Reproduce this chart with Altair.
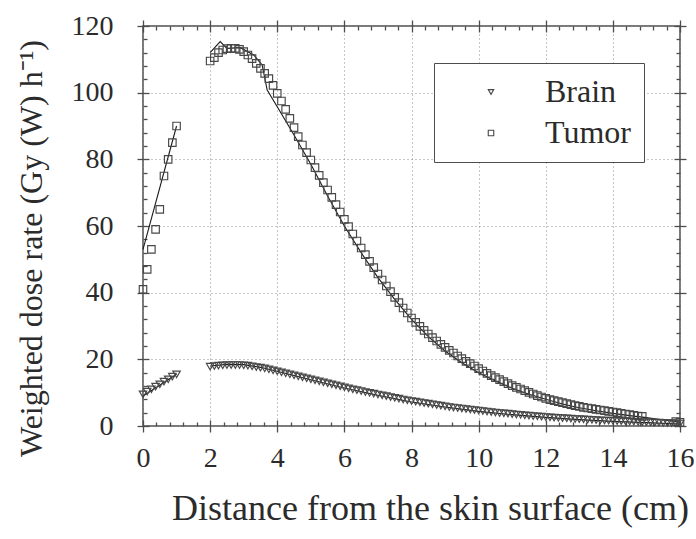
import altair as alt
import pandas as pd

# ---- measured / calculated weighted dose rate, Gy (W) per hour ----
near_depth = [0.0, 0.125, 0.25, 0.375, 0.5, 0.625, 0.75, 0.875, 1.0]
tumor_near = [41, 47, 53, 59, 65, 75, 80, 85, 90]
brain_near = [9.5, 10.3, 11.0, 11.8, 12.5, 13.3, 14.0, 14.8, 15.5]

far_depth = [
    2.0, 2.125, 2.25, 2.375, 2.5, 2.625, 2.75, 2.875,
    3.0, 3.125, 3.25, 3.375, 3.5, 3.625, 3.75, 3.875,
    4.0, 4.125, 4.25, 4.375, 4.5, 4.625, 4.75, 4.875,
    5.0, 5.125, 5.25, 5.375, 5.5, 5.625, 5.75, 5.875,
    6.0, 6.125, 6.25, 6.375, 6.5, 6.625, 6.75, 6.875,
    7.0, 7.125, 7.25, 7.375, 7.5, 7.625, 7.75, 7.875,
    8.0, 8.125, 8.25, 8.375, 8.5, 8.625, 8.75, 8.875,
    9.0, 9.125, 9.25, 9.375, 9.5, 9.625, 9.75, 9.875,
    10.0, 10.125, 10.25, 10.375, 10.5, 10.625, 10.75, 10.875,
    11.0, 11.125, 11.25, 11.375, 11.5, 11.625, 11.75, 11.875,
    12.0, 12.125, 12.25, 12.375, 12.5, 12.625, 12.75, 12.875,
    13.0, 13.125, 13.25, 13.375, 13.5, 13.625, 13.75, 13.875,
    14.0, 14.125, 14.25, 14.375, 14.5, 14.625, 14.75, 14.875,
    15.0, 15.125, 15.25, 15.375, 15.5, 15.625, 15.75, 15.875,
    16.0,
]

tumor_far = [
    109.5, 110.5, 112.0, 112.8, 113.2, 113.3, 113.3, 113.0,
    112.3, 111.3, 110.2, 108.8, 107.3, 105.8, 104.2, 102.2,
    99.8, 97.5, 95.0, 92.3, 89.5, 86.8, 84.3, 82.0,
    79.8, 77.5, 75.2, 73.0, 70.8, 68.6, 66.4, 64.2,
    62.0, 59.8, 57.6, 55.5, 53.4, 51.4, 49.4, 47.5,
    45.6, 43.8, 42.0, 40.3, 38.6, 37.0, 35.4, 33.9,
    32.4, 31.1, 29.9, 28.7, 27.6, 26.5, 25.5, 24.5,
    23.6, 22.7, 21.9, 21.0, 20.2, 19.4, 18.7, 18.0,
    17.2, 16.5, 15.8, 15.1, 14.5, 13.9, 13.3, 12.7,
    12.1, 11.6, 11.1, 10.6, 10.1, 9.6, 9.1, 8.7,
    8.3, 7.9, 7.6, 7.3, 7.0, 6.7, 6.4, 6.1,
    5.9, 5.6, 5.4, 5.2, 5.0, 4.8, 4.6, 4.4,
    4.2, 4.0, 3.8, 3.6, 3.4, 3.2, 3.0, 2.9,
]
tumor_end_depth = [15.875, 16.0]
tumor_end = [1.3, 1.1]

brain_far = [
    17.8, 18.0, 18.1, 18.2, 18.3, 18.3, 18.3, 18.3,
    18.2, 18.1, 17.9, 17.7, 17.5, 17.3, 17.0, 16.7,
    16.4, 16.1, 15.8, 15.5, 15.2, 14.9, 14.6, 14.3,
    14.0, 13.7, 13.4, 13.1, 12.8, 12.5, 12.2, 11.9,
    11.6, 11.3, 11.0, 10.75, 10.5, 10.2, 9.95, 9.7,
    9.45, 9.2, 8.95, 8.7, 8.45, 8.2, 7.95, 7.7,
    7.5, 7.3, 7.1, 6.9, 6.7, 6.5, 6.3, 6.1,
    5.9, 5.7, 5.55, 5.4, 5.25, 5.1, 4.95, 4.8,
    4.65, 4.5, 4.35, 4.2, 4.05, 3.9, 3.8, 3.7,
    3.55, 3.45, 3.35, 3.2, 3.1, 3.0, 2.9, 2.8,
    2.7, 2.6, 2.5, 2.45, 2.35, 2.3, 2.2, 2.1,
    2.05, 2.0, 1.9, 1.85, 1.8, 1.7, 1.65, 1.6,
    1.55, 1.5, 1.45, 1.4, 1.35, 1.3, 1.25, 1.2,
    1.15, 1.1, 1.05, 1.0, 0.95, 0.9, 0.85, 0.8,
    0.75,
]

# calculated curves (solid lines)
tumor_line_near_depth = [0.0, 1.0]
tumor_line_near = [53, 90]
brain_line_near_depth = [0.0, 1.0]
brain_line_near = [9.0, 15.5]

tumor_line_far_depth = [2.0, 2.3, 2.5, 2.9, 3.3, 3.55, 3.7, 4.0, 4.5, 5.0, 5.5, 6.0,
                        6.5, 7.0, 7.5, 8.0, 8.5, 9.0, 9.5, 10.0, 10.5, 11.0, 11.5,
                        12.0, 12.5, 13.0, 13.5, 14.0, 14.5, 15.0, 15.5, 16.0]
tumor_line_far = [112.0, 115.3, 113.3, 113.5, 111.3, 108.3, 100.8, 95.8, 87.3, 78.5,
                  69.0, 60.0, 52.0, 44.5, 38.0, 32.0, 26.8, 22.5, 19.0, 16.0, 13.5,
                  11.3, 9.5, 8.0, 6.6, 5.5, 4.6, 3.8, 3.1, 2.5, 1.8, 1.2]
brain_line_far_depth = [2.0, 2.5, 3.0, 3.5, 4.0, 5.0, 6.0, 7.0, 8.0, 9.0, 10.0,
                        11.0, 12.0, 13.0, 14.0, 15.0, 16.0]
brain_line_far = [18.0, 18.5, 18.4, 17.6, 16.4, 13.9, 11.4, 9.2, 7.2, 5.7, 4.4,
                  3.4, 2.6, 1.9, 1.4, 1.0, 0.6]

x_major = [0, 2, 4, 6, 8, 10, 12, 14, 16]
x_minor = [0.4, 0.8, 1.2, 1.6, 2.4, 2.8, 3.2, 3.6, 4.4, 4.8, 5.2, 5.6, 6.4, 6.8,
           7.2, 7.6, 8.4, 8.8, 9.2, 9.6, 10.4, 10.8, 11.2, 11.6, 12.4, 12.8,
           13.2, 13.6, 14.4, 14.8, 15.2, 15.6]
y_major = [0, 20, 40, 60, 80, 100, 120]
y_minor = [4, 8, 12, 16, 24, 28, 32, 36, 44, 48, 52, 56, 64, 68, 72, 76,
           84, 88, 92, 96, 104, 108, 112, 116]

# ---- tables ----
points = pd.concat([
    pd.DataFrame({"depth": near_depth, "rate": brain_near, "tissue": "Brain"}),
    pd.DataFrame({"depth": far_depth, "rate": brain_far, "tissue": "Brain"}),
    pd.DataFrame({"depth": near_depth, "rate": tumor_near, "tissue": "Tumor"}),
    pd.DataFrame({"depth": far_depth[:len(tumor_far)], "rate": tumor_far, "tissue": "Tumor"}),
    pd.DataFrame({"depth": tumor_end_depth, "rate": tumor_end, "tissue": "Tumor"}),
], ignore_index=True)

curves = pd.concat([
    pd.DataFrame({"depth": tumor_line_near_depth, "rate": tumor_line_near, "seg": "t1"}),
    pd.DataFrame({"depth": tumor_line_far_depth, "rate": tumor_line_far, "seg": "t2"}),
    pd.DataFrame({"depth": brain_line_near_depth, "rate": brain_line_near, "seg": "b1"}),
    pd.DataFrame({"depth": brain_line_far_depth, "rate": brain_line_far, "seg": "b2"}),
], ignore_index=True)

SERIF = "Liberation Serif"
INK = "#2b2b2b"
FRAME = "#4d4d4d"
MARK = "#474747"

xs = alt.Scale(domain=[0, 16], nice=False, zero=False)
ys = alt.Scale(domain=[0, 120], nice=False)


def axis_layer(x_axis, y_axis):
    return alt.Chart(points).mark_point(opacity=0).encode(
        x=alt.X("depth:Q", scale=xs, axis=x_axis),
        y=alt.Y("rate:Q", scale=ys, axis=y_axis),
    )


# grid, labels and titles
grid_layer = axis_layer(
    alt.Axis(orient="bottom", values=x_major, grid=True, gridDash=[1, 3],
             gridColor="#8c8c8c", gridWidth=1, ticks=False, domain=False,
             labelFont=SERIF, labelFontSize=28, labelColor=INK, labelPadding=18,
             labelFlush=False, labelOverlap=False,
             title="Distance from the skin surface (cm)", titleFont=SERIF,
             titleFontSize=36, titleFontWeight="normal", titleColor=INK,
             titleX=287, titleY=82, titleAlign="center", titleBaseline="middle"),
    alt.Axis(orient="left", values=y_major, grid=True, gridDash=[1, 3],
             gridColor="#8c8c8c", gridWidth=1, ticks=False, domain=False,
             labelFont=SERIF, labelFontSize=28, labelColor=INK, labelPadding=30,
             labelFlush=False, labelOverlap=False,
             title="Weighted dose rate (Gy (W) h⁻¹)", titleFont=SERIF,
             titleFontSize=32, titleFontWeight="normal", titleColor=INK,
             titleX=-112, titleY=222, titleAlign="center", titleBaseline="middle"),
)


def tick_axis(orient, values, size, offset):
    return alt.Axis(orient=orient, values=values, tickSize=size, offset=offset,
                    tickColor=FRAME, tickWidth=1.3, labels=False, domain=False,
                    grid=False, title=None)


major_low = axis_layer(tick_axis("bottom", x_major, 12, -6), tick_axis("left", y_major, 12, -6))
minor_low = axis_layer(tick_axis("bottom", x_minor, 4, -4), tick_axis("left", y_minor, 4, -4))
major_high = axis_layer(tick_axis("top", x_major, 12, -6), tick_axis("right", y_major, 12, -6))
minor_high = axis_layer(tick_axis("top", x_minor, 4, -4), tick_axis("right", y_minor, 4, -4))

lines = alt.Chart(curves).mark_line(color="#1a1a1a", strokeWidth=1.1).encode(
    x=alt.X("depth:Q", scale=xs, axis=None),
    y=alt.Y("rate:Q", scale=ys, axis=None),
    detail="seg:N",
)

markers = alt.Chart(points).mark_point(filled=False, size=56, strokeWidth=1.15,
                                        color=MARK, opacity=1).encode(
    x=alt.X("depth:Q", scale=xs, axis=None),
    y=alt.Y("rate:Q", scale=ys, axis=None),
    shape=alt.Shape(
        "tissue:N",
        scale=alt.Scale(domain=["Brain", "Tumor"], range=["triangle-down", "square"]),
        legend=alt.Legend(
            title=None, orient="none", legendX=291, legendY=37,
            fillColor="white", strokeColor=FRAME, padding=13,
            symbolSize=30, symbolStrokeWidth=1.1, symbolStrokeColor=MARK,
            symbolFillColor="white", symbolOffset=28, labelOffset=38,
            labelFont=SERIF, labelFontSize=32, labelColor=INK, rowPadding=9,
        ),
    ),
)

chart = alt.layer(
    grid_layer, major_low, minor_low, major_high, minor_high, lines, markers
).resolve_axis(x="independent", y="independent").properties(
    width=537, height=400,
    autosize=alt.AutoSizeParams(type="none"),
    padding={"left": 143, "top": 26, "right": 16, "bottom": 113},
    background="white",
).configure_view(stroke=FRAME, strokeWidth=1.5)

chart.save("out.html", embed_options={"renderer": "svg", "actions": False})
